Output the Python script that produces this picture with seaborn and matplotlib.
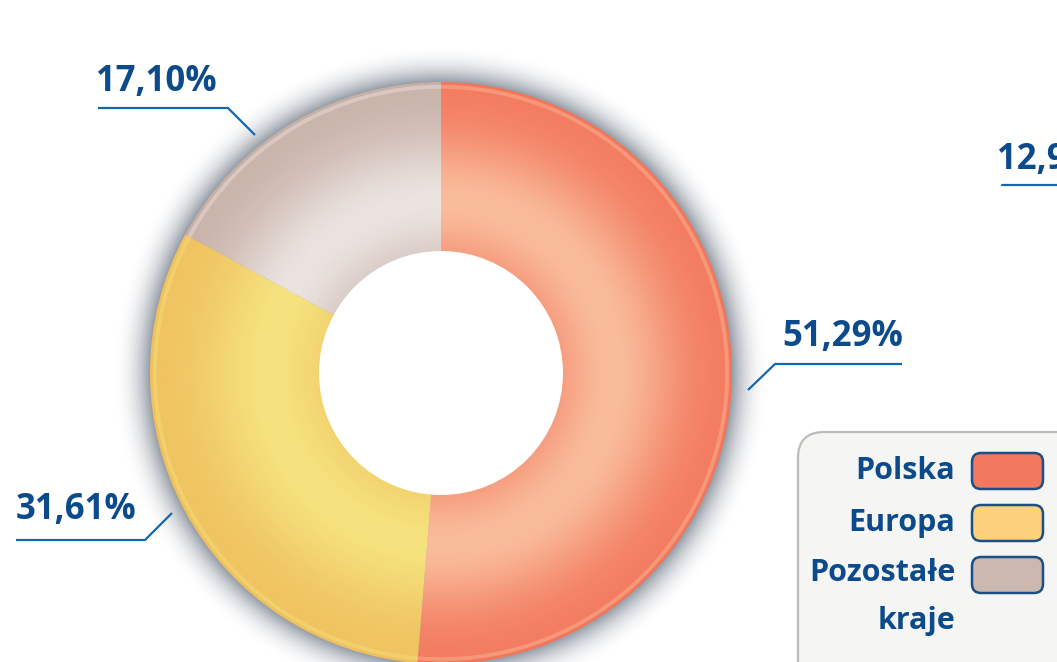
import numpy as np
import matplotlib
matplotlib.use("Agg")
import matplotlib.pyplot as plt
import seaborn as sns
from matplotlib.patches import Circle, FancyBboxPatch
from matplotlib.colors import to_rgb

# data
regions = ["Polska", "Europa", "Pozostałe kraje"]
shares = [51.29, 31.61, 17.10]
share_labels = ["51,29%", "31,61%", "17,10%"]
cut_label = "12,90%"  # label of a neighbouring chart, cut at the right edge

# colours
edge_colors = ["#f3795e", "#efc25f", "#c8b2a8"]
light_colors = ["#f9bc9b", "#f5e27e", "#ebe3e0"]
legend_colors = ["#f2785f", "#fdd07b", "#cbb8ae"]
text_blue = "#0b4a8b"
line_blue = "#1467aa"

sns.set_theme(style="white")
plt.rcParams['font.family'] = ['Open Sans', 'DejaVu Sans']

W, H = 1057, 662
fig = plt.figure(figsize=(W / 100, H / 100), dpi=100)
ax = fig.add_axes([0, 0, 1, 1])


def py(y):
    # pixel row (from top) -> data y
    return H - y


def blend(c1, c2, f):
    a, b = np.array(to_rgb(c1)), np.array(to_rgb(c2))
    return tuple(np.clip(a + (b - a) * f, 0, 1))


cx, cy = 441, py(373)
r_out, r_in = 291, 122

# soft bluish grey shadow round the ring
n_sh = 45
sh_w = 38
shadow = (0.58, 0.61, 0.65)
for i in range(n_sh):
    f = i / (n_sh - 1)
    r = r_out + sh_w * (1 - f)
    ax.add_patch(Circle((cx, cy), r, color=blend("white", shadow, f ** 2.2), lw=0))

# ring drawn as thin annuli so each gets its own shade
n_ring = 85
dr = (r_out - r_in) / n_ring
for i in range(n_ring):
    t = (i + 0.5) / n_ring
    light = np.exp(-((t - 0.3) / 0.38) ** 2)
    if 0.968 < t < 0.985:
        light = 0.45
    elif t >= 0.985:
        light = -0.05
    cols = [blend(e, l, light) for e, l in zip(edge_colors, light_colors)]
    ax.pie(shares, colors=cols, startangle=90, counterclock=False,
           center=(cx, cy), radius=r_in + (i + 1) * dr,
           wedgeprops=dict(width=dr + 0.8, linewidth=0), frame=True)

ax.add_patch(Circle((cx, cy), r_in, color="white", lw=0, zorder=5))
ax.set_xlim(0, W)
ax.set_ylim(0, H)
ax.set_aspect('equal')
ax.axis('off')

# value labels with leader lines
label_pos = [(843, 337), (76, 510), (156, 82)]
leaders = [
    [(748, 390), (775, 364), (902, 364)],
    [(16, 540), (145, 540), (172, 513)],
    [(98, 108), (228, 108), (255, 135)],
]
for lab, (tx, ty), pts in zip(share_labels, label_pos, leaders):
    ax.text(tx, py(ty), lab, ha='center', va='center', fontsize=25,
            fontweight='bold', color=text_blue, zorder=10)
    xs, ys = zip(*pts)
    ax.plot(xs, [py(v) for v in ys], color=line_blue, lw=1.6,
            solid_capstyle='butt', zorder=10)

ax.text(997, py(160), cut_label, ha='left', va='center', fontsize=25,
        fontweight='bold', color=text_blue, zorder=10)
ax.plot([1002, 1060], [py(185), py(185)], color=line_blue, lw=1.6, zorder=10)

# legend box, cut by the right and bottom edges
ax.add_patch(FancyBboxPatch((798, py(690)), 300, 258,
                            boxstyle="round,pad=0,rounding_size=26",
                            fc="#f5f5f4", ec="#bcbcbc", lw=1.6, zorder=8))
sw_rows = [471, 523, 575]
for name, col, yy in zip(regions, legend_colors, sw_rows):
    ax.add_patch(FancyBboxPatch((972, py(yy + 18)), 71, 36,
                                boxstyle="round,pad=0,rounding_size=9",
                                fc=col, ec="#1b4f85", lw=1.8, zorder=9))
    ty = yy if " " not in name else (yy - 2 + yy + 46) / 2
    ax.text(955, py(ty), name.replace(" ", "\n"), ha='right', va='center',
            fontsize=22, fontweight='bold', color=text_blue,
            linespacing=1.75, zorder=10)

fig.savefig("out.png", dpi=100)
